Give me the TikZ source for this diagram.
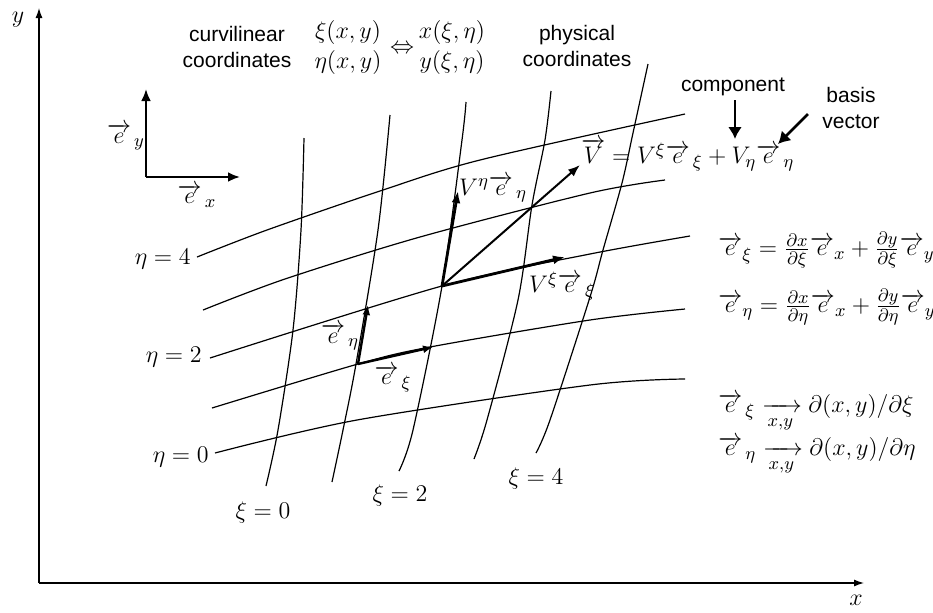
\documentclass[tikz,border=0pt]{standalone}
\usepackage{amsmath}
\usepackage{fontspec}
\setmainfont{Liberation Serif}
\newfontfamily\hv{Liberation Sans}
\usetikzlibrary{arrows.meta}
\tikzset{
  gridline/.style={line width=0.6pt},
  axisline/.style={line width=0.6pt,-{Latex[length=5pt,width=3.5pt]}},
  basisvec/.style={line width=1.4pt,-{Latex[length=6pt,width=5pt]}},
  compvec/.style={line width=1.4pt,-{Latex[length=6pt,width=4.5pt]}},
  smallvec/.style={line width=1.2pt,-{Latex[length=5pt,width=4pt]}},
  fullvec/.style={line width=1pt,-{Latex[length=6pt,width=4.5pt]}},
  callout/.style={line width=1.4pt,-{Latex[length=6pt,width=7pt]}},
  mlabel/.style={font=\fontsize{13}{15}\selectfont,inner sep=0pt},
  rlabel/.style={font=\fontsize{12.2}{14}\selectfont,inner sep=0pt},
  slabel/.style={font=\hv\fontsize{10.5}{13}\selectfont,inner sep=0pt,align=center},
}
\begin{document}
\begin{tikzpicture}[x=0.5pt,y=-0.5pt]
\useasboundingbox (0,0) rectangle (933,612);

% axes
\coordinate (O) at (39,583);
\coordinate (Ytip) at (39,8);
\coordinate (Xtip) at (864,583);
\draw[axisline] (O) -- (Ytip);
\draw[axisline] (O) -- (Xtip);
\node[mlabel] (ylab) at (18,20) {$y$};
\node[mlabel] (xlab) at (856,600) {$x$};

% Cartesian basis
\coordinate (B) at (146,177);
\coordinate (Bx) at (240,177);
\coordinate (By) at (146,89);
\draw[basisvec] (B) -- (Bx);
\draw[basisvec] (B) -- (By);
\node[mlabel] (ey) at (126,137) {$\overrightarrow{e}_{\,y}$};
\node[mlabel] (ex) at (197,196) {$\overrightarrow{e}_{\,x}$};

% eta lines
\draw[gridline] plot[smooth] coordinates {(197,257) (267,230) (380,191) (480,160) (685,114)};
\draw[gridline] plot[smooth] coordinates {(203,310) (285,279) (420,237) (590,193) (665,180)};
\draw[gridline] plot[smooth] coordinates {(210,358) (442,286) (590,254) (690,236)};
\draw[gridline] plot[smooth] coordinates {(212,408) (358,364) (430,347) (590,320) (685,309)};
\draw[gridline] plot[smooth] coordinates {(215,453) (357,420) (590,385) (685,379)};

% xi lines
\draw[gridline] plot[smooth] coordinates {(304,138) (301,230) (293,330) (278,430) (266,486)};
\draw[gridline] plot[smooth] coordinates {(390,115) (378,230) (356,364) (343,430) (332,482)};
\draw[gridline] plot[smooth] coordinates {(466,102) (462,140) (442,286) (413,430) (399,471)};
\draw[gridline] plot[smooth] coordinates {(551,91) (545,140) (532,205) (518,300) (487,420) (474,459)};
\draw[gridline] plot[smooth] coordinates {(648,64) (633,133) (622,183) (603,250) (590,297) (550,420) (536,453)};

% grid labels
\node[mlabel,anchor=east] (eta4) at (191,259) {$\eta = 4$};
\node[mlabel,anchor=east] (eta2) at (202,357) {$\eta = 2$};
\node[mlabel,anchor=east] (eta0) at (209,457) {$\eta = 0$};
\node[mlabel] (xi0) at (263,512) {$\xi = 0$};
\node[mlabel] (xi2) at (400,495) {$\xi = 2$};
\node[mlabel] (xi4) at (536,478) {$\xi = 4$};

% local basis vectors
\coordinate (P) at (358,364);
\coordinate (Peta) at (368,305);
\coordinate (Pxi) at (433,347);
\draw[smallvec] (P) -- (Peta);
\draw[smallvec] (P) -- (Pxi);
\node[mlabel] (leta) at (340,337) {$\overrightarrow{e}_{\,\eta}$};
\node[mlabel] (lxi) at (393,379) {$\overrightarrow{e}_{\,\xi}$};

% vector V and components
\coordinate (Q) at (442,286);
\coordinate (Qeta) at (458,191);
\coordinate (Qxi) at (565,257);
\coordinate (QV) at (580,165);
\draw[compvec] (Q) -- (Qeta);
\draw[compvec] (Q) -- (Qxi);
\draw[fullvec] (Q) -- (QV);
\node[mlabel] (lVeta) at (493,189) {$V^{\eta}\overrightarrow{e}_{\,\eta}$};
\node[mlabel] (lVxi) at (562,286) {$V^{\xi}\overrightarrow{e}_{\,\xi}$};

% V equation
\node[mlabel,anchor=west] (Veq) at (581,155) {$\overrightarrow{V} = V^{\xi}\overrightarrow{e}_{\,\xi} + V_{\eta}\overrightarrow{e}_{\,\eta}$};

% callouts
\node[slabel] (comp) at (733,87) {component};
\node[slabel] (basis) at (851,108) {basis\\vector};
\coordinate (c1) at (735,100);
\coordinate (c2) at (735,139);
\coordinate (b1) at (808,114);
\coordinate (b2) at (778,144);
\draw[callout] (c1) -- (c2);
\draw[callout] (b1) -- (b2);

% top texts
\node[slabel] (curv) at (237,47) {curvilinear\\coordinates};
\node[slabel] (phys) at (577,46) {physical\\coordinates};
\node[mlabel] (f1) at (348,32) {$\xi(x,y)$};
\node[mlabel] (f2) at (348,62) {$\eta(x,y)$};
\node[mlabel] (iff) at (402,49) {$\Leftrightarrow$};
\node[mlabel] (g1) at (452,32) {$x(\xi,\eta)$};
\node[mlabel] (g2) at (452,62) {$y(\xi,\eta)$};

% right equations
\node[rlabel,anchor=west] (r1) at (718,250) {$\overrightarrow{e}_{\xi} = \frac{\partial x}{\partial \xi}\overrightarrow{e}_{x} + \frac{\partial y}{\partial \xi}\overrightarrow{e}_{y}$};
\node[rlabel,anchor=west] (r2) at (718,307) {$\overrightarrow{e}_{\eta} = \frac{\partial x}{\partial \eta}\overrightarrow{e}_{x} + \frac{\partial y}{\partial \eta}\overrightarrow{e}_{y}$};
\node[mlabel,anchor=west] (r3) at (718,413) {$\overrightarrow{e}_{\,\xi} \xrightarrow[x,y]{} \partial(x,y)/\partial\xi$};
\node[mlabel,anchor=west] (r4) at (718,456) {$\overrightarrow{e}_{\,\eta} \xrightarrow[x,y]{} \partial(x,y)/\partial\eta$};
\end{tikzpicture}
\end{document}
